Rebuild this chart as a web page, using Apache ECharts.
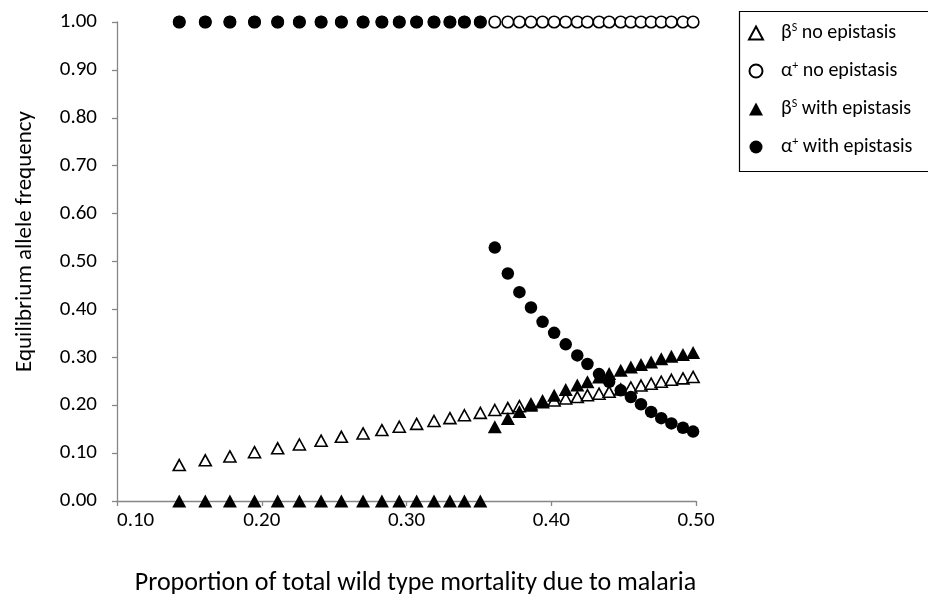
<!DOCTYPE html>
<html>
<head>
<meta charset="utf-8">
<script src="https://cdn.jsdelivr.net/npm/echarts@6/dist/echarts.min.js"></script>
<style>html,body{margin:0;padding:0;background:#fff;}#chart{width:928px;height:601px;}</style>
</head>
<body>
<div id="chart"></div>
<script>
const xVals = [0.143, 0.161, 0.178, 0.195, 0.211, 0.226, 0.241, 0.255, 0.270, 0.283, 0.295, 0.307, 0.319, 0.330, 0.340, 0.351,
  0.361, 0.370, 0.378, 0.386, 0.394, 0.402, 0.410, 0.418, 0.425, 0.433, 0.440, 0.448, 0.455, 0.462, 0.469, 0.476, 0.483, 0.491, 0.498];
const betaNoEpi = [0.075, 0.085, 0.093, 0.102, 0.110, 0.118, 0.126, 0.134, 0.141, 0.148, 0.155, 0.161, 0.167, 0.173, 0.179, 0.184,
  0.190, 0.194, 0.198, 0.202, 0.206, 0.210, 0.214, 0.217, 0.221, 0.224, 0.228, 0.233, 0.237, 0.241, 0.245, 0.249, 0.253, 0.256, 0.259];
const alphaNoEpi = [1.00, 1.00, 1.00, 1.00, 1.00, 1.00, 1.00, 1.00, 1.00, 1.00, 1.00, 1.00, 1.00, 1.00, 1.00, 1.00,
  1.00, 1.00, 1.00, 1.00, 1.00, 1.00, 1.00, 1.00, 1.00, 1.00, 1.00, 1.00, 1.00, 1.00, 1.00, 1.00, 1.00, 1.00, 1.00];
const betaEpi = [0, 0, 0, 0, 0, 0, 0, 0, 0, 0, 0, 0, 0, 0, 0, 0,
  0.155, 0.172, 0.187, 0.200, 0.210, 0.221, 0.233, 0.242, 0.249, 0.259, 0.266, 0.273, 0.280, 0.285, 0.290, 0.297, 0.302, 0.306, 0.310];
const alphaEpi = [1.00, 1.00, 1.00, 1.00, 1.00, 1.00, 1.00, 1.00, 1.00, 1.00, 1.00, 1.00, 1.00, 1.00, 1.00, 1.00,
  0.529, 0.475, 0.436, 0.404, 0.374, 0.351, 0.327, 0.304, 0.286, 0.265, 0.249, 0.231, 0.217, 0.202, 0.186, 0.173, 0.162, 0.153, 0.145];

const seriesNames = ['βS no epistasis', 'α+ no epistasis', 'βS with epistasis', 'α+ with epistasis'];
const legendRich = {
  'βS no epistasis': '{sp|}{t|β}{sup|S}{t| no epistasis}',
  'α+ no epistasis': '{sp|}{t|α}{sup|+}{t| no epistasis}',
  'βS with epistasis': '{sp|}{t|β}{sup|S}{t| with epistasis}',
  'α+ with epistasis': '{sp|}{t|α}{sup|+}{t| with epistasis}'
};
const xTicks = {min: 0.1, max: 0.5, interval: 0.1};
const yTicks = {min: 0, max: 1, interval: 0.1};

const FONT = 'Carlito, Lato, "Open Sans", sans-serif';
const pair = (ys) => xVals.map((x, i) => [x, ys[i]]);
const openStyle = {color: '#ffffff', borderColor: '#000000', borderWidth: 1.6, opacity: 1};
const fillStyle = {color: '#000000', borderColor: '#000000', borderWidth: 0, opacity: 1};

const chart = echarts.init(document.getElementById('chart'), null, {renderer: 'canvas'});
chart.setOption({
  animation: false,
  backgroundColor: '#ffffff',
  textStyle: {fontFamily: FONT},
  grid: {left: 117, right: 232, top: 22, bottom: 100, containLabel: false},
  xAxis: {
    type: 'value', min: xTicks.min, max: xTicks.max, interval: xTicks.interval,
    name: 'Proportion of total wild type mortality due to malaria',
    nameLocation: 'middle', nameGap: 69,
    nameTextStyle: {fontFamily: FONT, fontSize: 26, color: '#000', padding: [0, 0, 0, 18]},
    axisLine: {show: true, lineStyle: {color: '#868686', width: 1.3}},
    axisTick: {show: true, length: 5, inside: false, lineStyle: {color: '#868686', width: 1.3}},
    splitLine: {show: false},
    axisLabel: {fontFamily: FONT, fontSize: 21, color: '#000', margin: 9, alignMinLabel: 'left',
      formatter: v => v.toFixed(2)}
  },
  yAxis: {
    type: 'value', min: yTicks.min, max: yTicks.max, interval: yTicks.interval,
    name: 'Equilibrium allele frequency',
    nameLocation: 'middle', nameGap: 80,
    nameTextStyle: {fontFamily: FONT, fontSize: 23, color: '#000', padding: [0, 0, 0, 40]},
    axisLine: {show: true, lineStyle: {color: '#868686', width: 1.3}},
    axisTick: {show: true, length: 5, inside: false, lineStyle: {color: '#868686', width: 1.3}},
    splitLine: {show: false},
    axisLabel: {fontFamily: FONT, fontSize: 21, color: '#000', margin: 20,
      formatter: v => v.toFixed(2)}
  },
  legend: {
    orient: 'vertical', left: 748, top: 22, padding: 0, itemGap: 17,
    itemWidth: 14, itemHeight: 13,
    data: seriesNames,
    formatter: n => legendRich[n],
    textStyle: {
      fontFamily: FONT, fontSize: 20, color: '#000',
      rich: {
        sp: {width: 13, height: 22},
        t: {fontFamily: FONT, fontSize: 20, color: '#000', lineHeight: 22},
        sup: {fontFamily: FONT, fontSize: 12, color: '#000', verticalAlign: 'top', padding: [0, 0, 9, 0]}
      }
    }
  },
  graphic: [{
    type: 'rect', left: 737, top: 9, z: -1,
    shape: {width: 200, height: 160},
    style: {fill: 'none', stroke: '#000', lineWidth: 1.2}
  }],
  series: [
    {name: seriesNames[0], type: 'scatter', symbol: 'triangle', symbolSize: [12, 11], data: pair(betaNoEpi), itemStyle: openStyle, z: 2},
    {name: seriesNames[1], type: 'scatter', symbol: 'circle', symbolSize: 11.5, data: pair(alphaNoEpi), itemStyle: openStyle, z: 2},
    {name: seriesNames[2], type: 'scatter', symbol: 'triangle', symbolSize: [14, 13], data: pair(betaEpi), itemStyle: fillStyle, z: 3},
    {name: seriesNames[3], type: 'scatter', symbol: 'circle', symbolSize: 12.5, data: pair(alphaEpi), itemStyle: fillStyle, z: 4}
  ]
});
</script>
</body>
</html>
